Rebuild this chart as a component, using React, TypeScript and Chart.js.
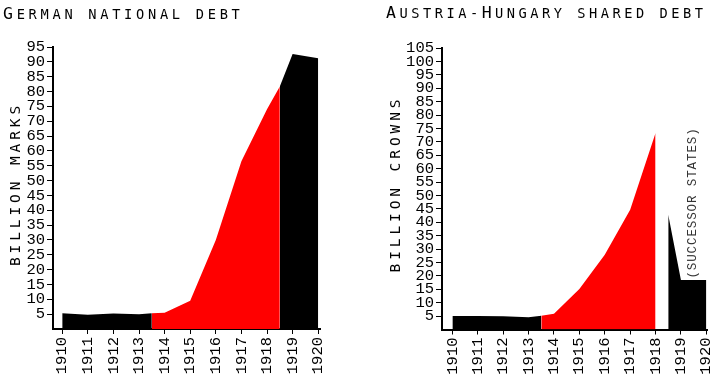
import React, { useEffect, useRef } from "react";
import { Chart, registerables } from "chart.js";

Chart.register(...registerables);

// ---- tick labels ----
const years = [1910, 1911, 1912, 1913, 1914, 1915, 1916, 1917, 1918, 1919, 1920];
const germanYTicks = [5, 10, 15, 20, 25, 30, 35, 40, 45, 50, 55, 60, 65, 70, 75, 80, 85, 90, 95];
const ahYTicks = [5, 10, 15, 20, 25, 30, 35, 40, 45, 50, 55, 60, 65, 70, 75, 80, 85, 90, 95, 100, 105];

// ---- German national debt (billion marks) ----
const germanPrewarYears = [1910, 1911, 1912, 1913, 1913.5];
const germanPrewarDebt = [5.3, 4.8, 5.2, 5.0, 5.3];
const germanWarYears = [1913.5, 1914, 1915, 1916, 1917, 1918, 1918.5];
const germanWarDebt = [5.3, 5.5, 9.5, 30, 56.5, 74, 81.7];
const germanPostwarYears = [1918.5, 1919, 1920];
const germanPostwarDebt = [81.7, 92.6, 91.2];

// ---- Austria-Hungary shared debt (billion crowns) ----
const ahPrewarYears = [1910, 1911, 1912, 1913, 1913.5];
const ahPrewarDebt = [5.0, 5.0, 4.9, 4.6, 5.1];
const ahWarYears = [1913.5, 1914, 1915, 1916, 1917, 1918];
const ahWarDebt = [5.1, 5.9, 15.1, 27.9, 44.7, 73.3];
const successorYears = [1918.5, 1919, 1920];
const successorDebt = [42.8, 18.5, 18.5];

const BLACK = "#000000";
const RED = "#ff0000";
const TICK_FONT = { family: "'Liberation Mono', monospace", size: 15.5 };
const TITLE_FONT = "'DejaVu Sans Mono', monospace";

function pts(xs: number[], ys: number[]) {
  return xs.map((x, i) => ({ x, y: ys[i] }));
}

function area(xs: number[], ys: number[], color: string) {
  return {
    data: pts(xs, ys),
    backgroundColor: color,
    borderColor: color,
    borderWidth: 0,
    pointRadius: 0,
    pointHoverRadius: 0,
    tension: 0,
    fill: "origin",
  };
}

function makeConfig(opts: {
  datasets: any[];
  xMin: number;
  xMax: number;
  yMax: number;
  yTicks: number[];
  yAxisWidth: number;
  xAxisHeight: number;
  padTop: number;
  padRight: number;
}): any {
  return {
    type: "line",
    data: { datasets: opts.datasets },
    options: {
      animation: false,
      responsive: false,
      maintainAspectRatio: false,
      events: [],
      layout: { padding: { left: 0, top: opts.padTop, right: opts.padRight, bottom: 0 } },
      plugins: {
        legend: { display: false },
        tooltip: { enabled: false },
        title: { display: false },
      },
      scales: {
        x: {
          type: "linear",
          z: 1,
          min: opts.xMin,
          max: opts.xMax,
          afterBuildTicks: (ax: any) => {
            ax.ticks = years.map((v) => ({ value: v }));
          },
          afterFit: (ax: any) => {
            ax.height = opts.xAxisHeight;
          },
          grid: {
            drawOnChartArea: false,
            drawTicks: true,
            tickLength: 5,
            color: BLACK,
            lineWidth: 1,
          },
          border: { display: true, color: BLACK, width: 2 },
          ticks: {
            font: TICK_FONT,
            color: BLACK,
            minRotation: 90,
            maxRotation: 90,
            autoSkip: false,
            padding: 3,
            callback: (v: any) => String(v),
          },
        },
        y: {
          type: "linear",
          z: 1,
          min: 0,
          max: opts.yMax,
          afterBuildTicks: (ax: any) => {
            ax.ticks = opts.yTicks.map((v) => ({ value: v }));
          },
          afterFit: (ax: any) => {
            ax.width = opts.yAxisWidth;
          },
          grid: {
            drawOnChartArea: false,
            drawTicks: true,
            tickLength: 6,
            color: BLACK,
            lineWidth: 1,
          },
          border: { display: true, color: BLACK, width: 2 },
          ticks: {
            font: TICK_FONT,
            color: BLACK,
            padding: 2,
            autoSkip: false,
            callback: (v: any) => String(v),
          },
        },
      },
    },
  };
}

function ChartCanvas({ config, left }: { config: any; left: number }) {
  const ref = useRef<HTMLCanvasElement | null>(null);
  useEffect(() => {
    if (!ref.current) return;
    const chart = new Chart(ref.current, config);
    return () => chart.destroy();
  }, [config]);
  return (
    <canvas
      ref={ref}
      width={364}
      height={387}
      style={{ position: "absolute", left, top: 0, width: 364, height: 387 }}
    />
  );
}

const germanConfig = makeConfig({
  datasets: [
    area(germanPrewarYears, germanPrewarDebt, BLACK),
    area(germanWarYears, germanWarDebt, RED),
    area(germanPostwarYears, germanPostwarDebt, BLACK),
  ],
  xMin: 1909.64,
  xMax: 1920.07,
  yMax: 95,
  yTicks: germanYTicks,
  yAxisWidth: 53,
  xAxisHeight: 58,
  padTop: 47,
  padRight: 44,
});

const ahConfig = makeConfig({
  datasets: [
    area(ahPrewarYears, ahPrewarDebt, BLACK),
    area(ahWarYears, ahWarDebt, RED),
    area(successorYears, successorDebt, BLACK),
  ],
  xMin: 1909.59,
  xMax: 1920.04,
  yMax: 105,
  yTicks: ahYTicks,
  yAxisWidth: 78,
  xAxisHeight: 57.5,
  padTop: 48,
  padRight: 18.7,
});

const bigCap: React.CSSProperties = { fontSize: 16.5 };
const smallCap: React.CSSProperties = { fontSize: 13.7, textTransform: "uppercase" };

function Title({
  left,
  top,
  spacing,
  parts,
}: {
  left: number;
  top: number;
  spacing: number;
  parts: [string, boolean][];
}) {
  return (
    <div
      style={{
        position: "absolute",
        left,
        top,
        fontFamily: TITLE_FONT,
        fontSize: 16.5,
        lineHeight: "20px",
        letterSpacing: spacing + "px",
        whiteSpace: "nowrap",
        color: "#000",
      }}
    >
      {parts.map(([t, big], i) => (
        <span key={i} style={big ? bigCap : smallCap}>
          {t}
        </span>
      ))}
    </div>
  );
}

function VText({
  cx,
  cy,
  text,
  font,
  size,
  spacing,
  color,
}: {
  cx: number;
  cy: number;
  text: string;
  font: string;
  size: number;
  spacing: number;
  color: string;
}) {
  const w = 240;
  const h = 20;
  return (
    <div
      style={{
        position: "absolute",
        left: cx - w / 2,
        top: cy - h / 2,
        width: w,
        height: h,
        lineHeight: h + "px",
        textAlign: "center",
        fontFamily: font,
        fontSize: size,
        letterSpacing: spacing + "px",
        whiteSpace: "nowrap",
        color,
        transform: "rotate(-90deg)",
        transformOrigin: "50% 50%",
      }}
    >
      {text}
    </div>
  );
}

export default function App() {
  return (
    <div
      style={{
        position: "fixed",
        left: 0,
        top: 0,
        width: 728,
        height: 387,
        background: "#fff",
        overflow: "hidden",
      }}
    >
      <ChartCanvas config={germanConfig} left={0} />
      <ChartCanvas config={ahConfig} left={364} />
      <Title
        left={3}
        top={3.6}
        spacing={3.7}
        parts={[
          ["G", true],
          ["erman national debt", false],
        ]}
      />
      <Title
        left={386}
        top={3.3}
        spacing={3.5}
        parts={[
          ["A", true],
          ["ustria-", false],
          ["H", true],
          ["ungary shared debt", false],
        ]}
      />
      <VText cx={15} cy={184} text="BILLION MARKS" font={TITLE_FONT} size={14.5} spacing={3.9} color="#000" />
      <VText cx={395} cy={184} text="BILLION CROWNS" font={TITLE_FONT} size={14.5} spacing={3.9} color="#000" />
      <VText
        cx={692.5}
        cy={202.5}
        text="(SUCCESSOR STATES)"
        font="'Liberation Mono', monospace"
        size={12.5}
        spacing={0.9}
        color="#333"
      />
    </div>
  );
}
